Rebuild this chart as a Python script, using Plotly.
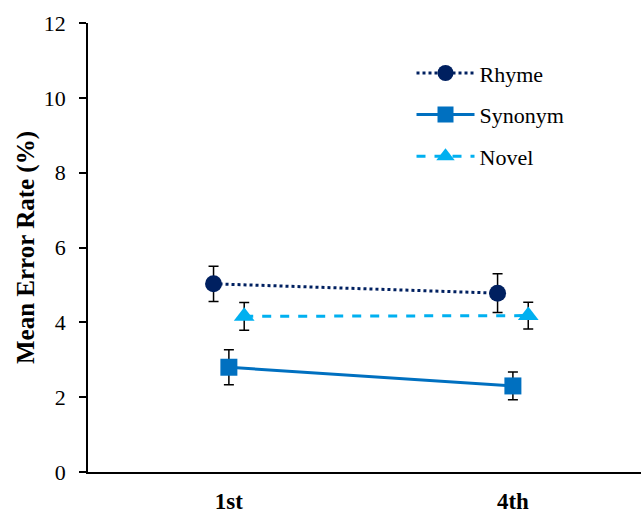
import plotly.graph_objects as go

categories = ["1st", "4th"]
cat_pos = [0, 1]
series_names = ["Rhyme", "Synonym", "Novel"]
rhyme = [5.03, 4.78]
rhyme_err = [0.47, 0.52]
synonym = [2.8, 2.3]
synonym_err = [0.47, 0.37]
novel = [4.16, 4.18]
novel_err = [0.37, 0.36]
y_ticks = [0, 2, 4, 6, 8, 10, 12]

offsets = [-0.054, 0.0, 0.054]
colors = ["#002060", "#0070C0", "#00B0F0"]
dashes = ["dot", "solid", "dash"]
symbols = ["circle", "square", "triangle-up"]
values = [rhyme, synonym, novel]
errors = [rhyme_err, synonym_err, novel_err]

fig = go.Figure()
for i, name in enumerate(series_names):
    fig.add_trace(go.Scatter(
        x=[p + offsets[i] for p in cat_pos],
        y=values[i],
        name=name,
        legendgroup=name,
        mode="lines+markers",
        line=dict(color=colors[i], width=3, dash=dashes[i]),
        marker=dict(symbol=symbols[i], size=17 if i != 2 else 18, color=colors[i]),
        error_y=dict(type="data", array=errors[i], color="black", thickness=1.5, width=5),
    ))

font = "Liberation Serif, Times New Roman, serif"
fig.update_layout(
    width=641, height=514,
    margin=dict(l=88, r=0, t=23, b=42, autoexpand=False),
    paper_bgcolor="white", plot_bgcolor="white",
    font=dict(family=font, size=22, color="black"),
    showlegend=True,
    legend=dict(x=0.585, y=0.935, xanchor="left", yanchor="top",
                font=dict(family=font, size=22, color="black"),
                itemwidth=58, tracegroupgap=10, bgcolor="rgba(0,0,0,0)"),
    xaxis=dict(range=[-0.496, 1.451], tickvals=cat_pos, ticktext=categories,
               showline=True, linecolor="black", linewidth=1.5, showgrid=False,
               zeroline=False, ticks="", tickfont=dict(family=font, size=23, color="black", weight="bold"),
               ticklabelstandoff=8, fixedrange=True),
    yaxis=dict(range=[0, 12], tickvals=y_ticks, showline=True, linecolor="black",
               linewidth=1.5, showgrid=False, zeroline=False, ticks="outside",
               ticklen=7, tickwidth=1.5, tickcolor="black",
               tickfont=dict(family=font, size=22, color="black"),
               ticklabelstandoff=9, fixedrange=True,
               title=dict(text="<b>Mean Error Rate (%)</b>", font=dict(family=font, size=25, color="black"), standoff=2)),
)

fig.write_html("out.html", config={"displayModeBar": False},
               post_script="document.body.style.margin='0';document.body.style.overflow='hidden';")
